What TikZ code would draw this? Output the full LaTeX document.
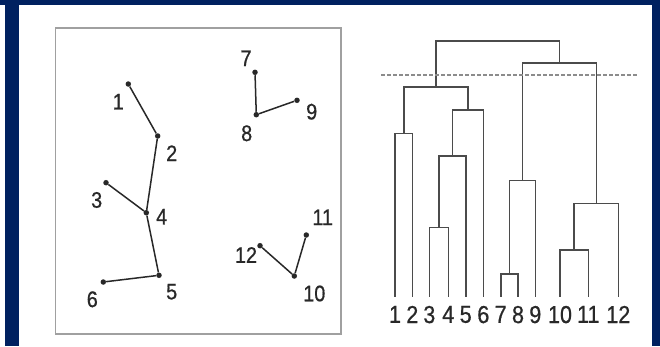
\documentclass[tikz,border=0pt]{standalone}
\usepackage{fontspec}
\setmainfont{Liberation Sans}
\newfontfamily\narrowfont[FakeStretch=0.88,FakeBold=0.7]{Liberation Sans}
\definecolor{navy}{RGB}{0,33,96}
\definecolor{ink}{RGB}{40,40,40}
\definecolor{dline}{RGB}{75,75,75}
\definecolor{framegray}{RGB}{160,160,160}
\definecolor{cutgray}{RGB}{140,140,140}
\begin{document}
\begin{tikzpicture}[x=1pt,y=-1pt,
  pt/.style={circle,fill=ink,inner sep=0pt,minimum size=5.5pt},
  edge/.style={draw=ink,line width=1.5pt},
  plab/.style={text=ink,font=\narrowfont\fontsize{22.5}{22.5}\selectfont,inner sep=0pt},
  dlab/.style={text=ink,font=\narrowfont\fontsize{24.5}{24.5}\selectfont,inner sep=0pt,anchor=north},
  dend/.style={draw=dline,line width=1.6pt},
  cutline/.style={draw=cutgray,line width=1.2pt,dash pattern=on 3.5pt off 2.5pt}]
\useasboundingbox (0,0) rectangle (660,346);
% background frame
\fill[navy] (0,0) rectangle (660,346);
\fill[white] (19,5) rectangle (652,346);
\fill[white] (0,5) rectangle (5,346);
% left box
\draw[framegray,line width=1.5pt] (55.5,28) rectangle (341,334);
% points
\node[pt] (p1) at (128.3,84) {};
\node[pt] (p2) at (157.7,136) {};
\node[pt] (p3) at (106,182.7) {};
\node[pt] (p4) at (146.3,212.7) {};
\node[pt] (p5) at (159,275.3) {};
\node[pt] (p6) at (103.3,282) {};
\node[pt] (p7) at (255,72.3) {};
\node[pt] (p8) at (256.3,114.7) {};
\node[pt] (p9) at (297,100.3) {};
\node[pt] (p10) at (294.3,276) {};
\node[pt] (p11) at (306.3,235) {};
\node[pt] (p12) at (260,245.7) {};
\draw[edge] (p1) -- (p2);
\draw[edge] (p2) -- (p4);
\draw[edge] (p3) -- (p4);
\draw[edge] (p4) -- (p5);
\draw[edge] (p5) -- (p6);
\draw[edge] (p7) -- (p8);
\draw[edge] (p8) -- (p9);
\draw[edge] (p12) -- (p10);
\draw[edge] (p10) -- (p11);
% point labels
\node[plab] (q1) at (118.3,101.7) {1};
\node[plab] (q2) at (171.7,153.3) {2};
\node[plab] (q3) at (96.7,200) {3};
\node[plab] (q4) at (161.7,216.7) {4};
\node[plab] (q5) at (171.7,291.7) {5};
\node[plab] (q6) at (92.3,299.3) {6};
\node[plab] (q7) at (246,58.3) {7};
\node[plab] (q8) at (246.7,133.3) {8};
\node[plab] (q9) at (311.7,111.7) {9};
\node[plab] (q10) at (314.3,293.5) {10};
\node[plab] (q11) at (322.7,217.3) {11};
\node[plab] (q12) at (246,255) {12};
% dendrogram leaves
\foreach \i/\x in {1/395,2/412.3,3/429.3,4/448.3,5/465.7,6/483.3,7/500.7,8/518,9/535.3,10/560,11/588.3,12/618.3}{
  \coordinate (l\i) at (\x,296.7);
  \node[dlab] (t\i) at (\x,305.7) {\i};
}
% merge points
\coordinate (m12) at (403.7,133.3);
\coordinate (m34) at (438.8,227.3);
\coordinate (m345) at (452.3,156);
\coordinate (m3456) at (467.8,110);
\coordinate (m16) at (435.7,86.7);
\coordinate (m78) at (509.3,274);
\coordinate (m789) at (522.5,180.3);
\coordinate (m1011) at (574.2,250);
\coordinate (m1012) at (596.5,203.3);
\coordinate (m712) at (559.5,62.7);
\coordinate (root) at (497.6,40.7);
\draw[dend] (l1) |- (m12) -| (l2);
\draw[dend] (l3) |- (m34) -| (l4);
\draw[dend] (m34) |- (m345) -| (l5);
\draw[dend] (m345) |- (m3456) -| (l6);
\draw[dend] (m12) |- (m16) -| (m3456);
\draw[dend] (l7) |- (m78) -| (l8);
\draw[dend] (m78) |- (m789) -| (l9);
\draw[dend] (l10) |- (m1011) -| (l11);
\draw[dend] (m1011) |- (m1012) -| (l12);
\draw[dend] (m789) |- (m712) -| (m1012);
\draw[dend] (m16) |- (root) -| (m712);
% cut line
\coordinate (cutL) at (381,75);
\coordinate (cutR) at (638.3,75);
\draw[cutline] (cutL) -- (cutR);
\end{tikzpicture}
\end{document}
